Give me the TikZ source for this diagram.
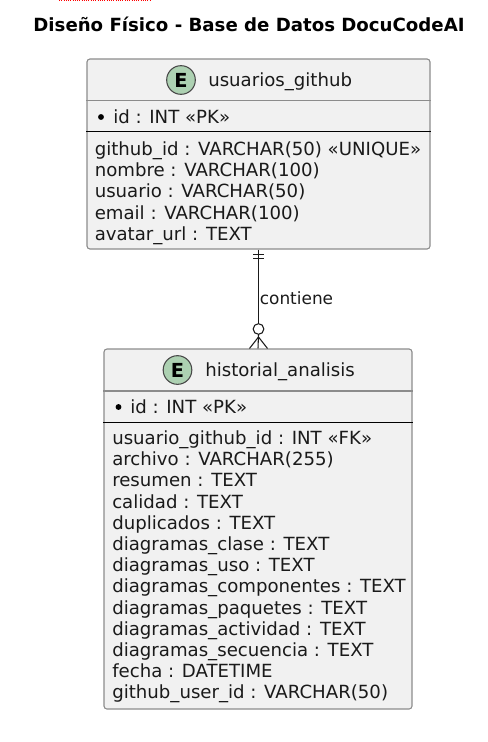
\documentclass[tikz,border=0pt]{standalone}
\usepackage{fontspec}
\usepackage{xcolor}
\setmainfont{DejaVu Sans}
\usetikzlibrary{arrows.meta,positioning,calc}
\definecolor{entfill}{HTML}{F1F1F1}
\definecolor{entline}{HTML}{8C8C8C}
\definecolor{spotfill}{HTML}{ADD1B2}
\definecolor{inkdark}{HTML}{1A1A1A}

\begin{document}
\begin{tikzpicture}[x=0.75pt,y=-0.75pt,
  ent/.style={draw=entline,fill=entfill,rounded corners=2.2pt,line width=0.8pt,inner sep=0pt,minimum width=#1},
  spot/.style={draw=inkdark!80,fill=spotfill,circle,line width=0.8pt,inner sep=0pt,minimum size=21.5pt,font=\fontsize{14.5pt}{16pt}\selectfont\bfseries},
  ttl/.style={anchor=base west,text=inkdark,font=\fontsize{13.6pt}{15.75pt}\selectfont,inner sep=0pt},
  attr/.style={anchor=north west,align=left,text=inkdark,font=\fontsize{13.6pt}{15.9pt}\selectfont,inner sep=0pt},
  pkdot/.style={fill=black,circle,inner sep=0pt,minimum size=4.4pt}]
  \useasboundingbox (0,0) rectangle (487,742);
  % top mark and title
  \draw[red,line width=0.7pt,densely dotted] (59,0.5) -- (151,0.5);
  \node[anchor=base,inner sep=0pt,text=black,font=\fontsize{13.62pt}{16pt}\selectfont\bfseries] (title) at (249,32) {Diseño Físico - Base de Datos DocuCodeAI};
  % usuarios_github
  \node[ent=257.25pt,minimum height=142.5pt] (usr) at (258.5,154) {};
  \draw[entline,line width=0.8pt] (usr.west |- 0,100.5) -- (usr.east |- 0,100.5);
  \draw[black,line width=0.8pt] (usr.west |- 0,131.5) -- (usr.east |- 0,131.5);
  \node[spot] (usrE) at (181,80) {E};
  \node[ttl] (usrT) at (208,86) {usuarios\_github};
  \node[pkdot] (usrD) at (101,117) {};
  \node[attr] (usrK) at (113,109.5) {id : INT «PK»};
  \node[attr] (usrA) at (94.5,141.5) {github\_id : VARCHAR(50) «UNIQUE»\\nombre : VARCHAR(100)\\usuario : VARCHAR(50)\\email : VARCHAR(100)\\avatar\_url : TEXT};
  % historial_analisis
  \node[ent=231pt,minimum height=270pt] (his) at (258,529) {};
  \draw[entline,line width=0.8pt] (his.west |- 0,391) -- (his.east |- 0,391);
  \draw[black,line width=0.8pt] (his.west |- 0,422.5) -- (his.east |- 0,422.5);
  \node[spot] (hisE) at (177.5,370) {E};
  \node[ttl] (hisT) at (205,376) {historial\_analisis};
  \node[pkdot] (hisD) at (118.5,407) {};
  \node[attr] (hisK) at (130,399.5) {id : INT «PK»};
  \node[attr] (hisA) at (112,430.5) {usuario\_github\_id : INT «FK»\\archivo : VARCHAR(255)\\resumen : TEXT\\calidad : TEXT\\duplicados : TEXT\\diagramas\_clase : TEXT\\diagramas\_uso : TEXT\\diagramas\_componentes : TEXT\\diagramas\_paquetes : TEXT\\diagramas\_actividad : TEXT\\diagramas\_secuencia : TEXT\\fecha : DATETIME\\github\_user\_id : VARCHAR(50)};
  % relation
  \node[draw=inkdark,circle,line width=0.8pt,inner sep=0pt,minimum size=8pt] (zero) at (258.5,329) {};
  \coordinate (tipA) at (258.5,337);
  \draw[inkdark,line width=0.8pt] (usr.south) -- node[pos=0.66,right=0.6pt,inner sep=0pt,font=\fontsize{12.7pt}{14pt}\selectfont] (rel) {contiene} (zero.north);
  \draw[inkdark,line width=0.8pt] ($(usr.south)+(-5.5,4.5)$) -- ($(usr.south)+(5.5,4.5)$);
  \draw[inkdark,line width=0.8pt] ($(usr.south)+(-5.5,9)$) -- ($(usr.south)+(5.5,9)$);
  \draw[inkdark,line width=0.8pt] (zero.south) -- (his.north);
  \draw[inkdark,line width=0.8pt] ($(his.north)+(-8.5,0)$) -- (tipA) -- ($(his.north)+(9.5,0)$);
\end{tikzpicture}
\end{document}
